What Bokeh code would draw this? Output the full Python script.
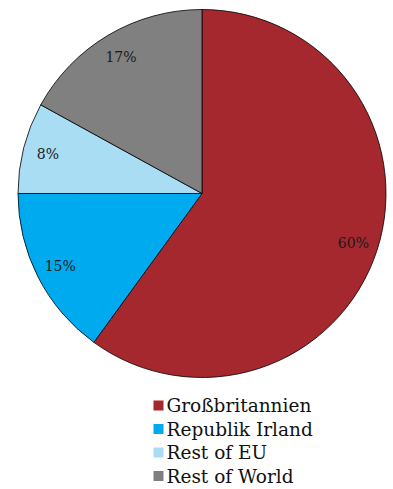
import numpy as np
from bokeh.plotting import figure
from bokeh.models import Range1d, ColumnDataSource
from bokeh.core.properties import value
from bokeh.embed import file_html
from bokeh.resources import INLINE

categories = ["Großbritannien", "Republik Irland", "Rest of EU", "Rest of World"]
shares = [60, 15, 8, 17]
labels = ["60%", "15%", "8%", "17%"]
colors = ["#A5282F", "#00AAEF", "#A9DDF3", "#808080"]

W, H = 393, 489
cx, cy, R = 201.5, H - 193, 184
FONT = "DejaVu Serif"

p = figure(width=W, height=H, output_backend="svg", toolbar_location=None,
           x_range=Range1d(0, W), y_range=Range1d(0, H), min_border=0)
p.axis.visible = False
p.grid.visible = False
p.outline_line_color = None
p.background_fill_color = "white"
p.border_fill_color = "white"

frac = np.array(shares, dtype=float) / sum(shares)
cum = np.concatenate([[0], np.cumsum(frac)])
start = np.pi / 2 - 2 * np.pi * cum[:-1]
end = np.pi / 2 - 2 * np.pi * cum[1:]
mid = (start + end) / 2

src = ColumnDataSource(dict(start=start, end=end, color=colors))
p.wedge(x=cx, y=cy, radius=R, start_angle="start", end_angle="end",
        direction="clock", fill_color="color", line_color="black",
        line_width=0.8, source=src)

lr = R * 0.865
lsrc = ColumnDataSource(dict(x=cx + lr * np.cos(mid), y=cy + lr * np.sin(mid), t=labels))
p.text(x="x", y="y", text="t", source=lsrc, text_align="center",
       text_baseline="middle", text_font=value(FONT), text_font_size="14px",
       text_color="#1a1a1a")

# legend
ly0 = H - 405
step = 23.5
ys = [ly0 - i * step for i in range(len(categories))]
p.scatter(x=[158] * len(categories), y=ys, marker="square", size=10,
          fill_color=colors, line_color=None)
p.text(x=[166] * len(categories), y=ys, text=categories, text_align="left",
       text_baseline="middle", text_font=value(FONT), text_font_size="18.5px",
       text_color="#111111")

open("out.html", "w").write(file_html(p, INLINE))
